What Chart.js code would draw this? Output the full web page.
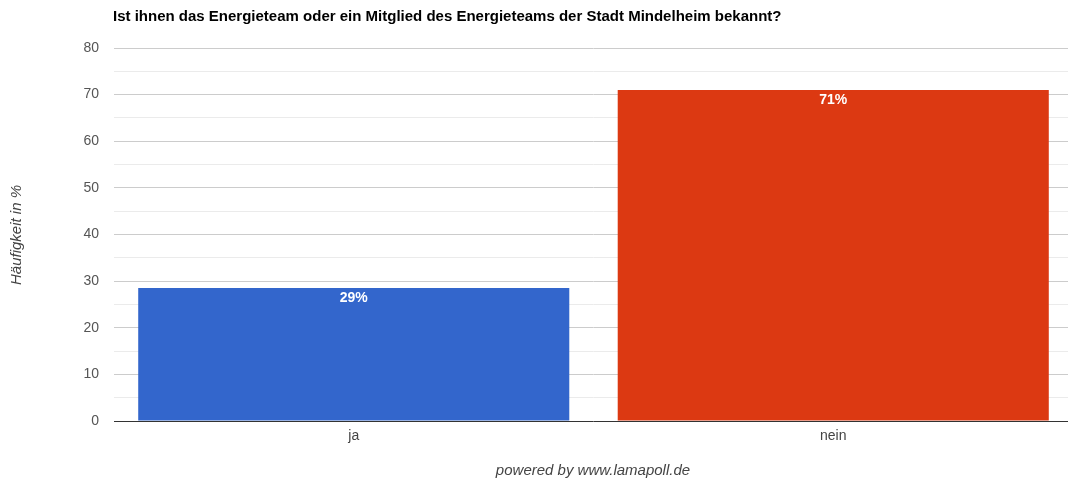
<!DOCTYPE html>
<html>
<head>
<meta charset="utf-8">
<script src="https://cdn.jsdelivr.net/npm/chart.js@4/dist/chart.umd.min.js"></script>
<style>
  html, body { margin: 0; padding: 0; background: #fff; overflow: hidden; }
  #wrap { width: 1068px; height: 483px; overflow: hidden; }
  canvas { display: block; }
</style>
</head>
<body>
<div id="wrap"><canvas id="chart" width="1073" height="483"></canvas></div>
<script>
const title = 'Ist ihnen das Energieteam oder ein Mitglied des Energieteams der Stadt Mindelheim bekannt?';
const yAxisTitle = 'Häufigkeit in %';
const footer = 'powered by www.lamapoll.de';

const categories = ['ja', 'nein'];
const values = [28.5, 71.0];
const barColors = ['#3366cc', '#dc3912'];
const yTicks = [0, 10, 20, 30, 40, 50, 60, 70, 80];

// texte ausserhalb der achsen + prozentwerte in den balken
const extraText = {
  id: 'extraText',
  afterDraw(chart) {
    const ctx = chart.ctx;
    ctx.save();

    ctx.fillStyle = '#000';
    ctx.font = 'bold 15px "Liberation Sans", Arial, sans-serif';
    ctx.textAlign = 'left';
    ctx.textBaseline = 'alphabetic';
    ctx.fillText(title, 113, 21);

    ctx.fillStyle = '#444';
    ctx.font = 'italic 15px "Liberation Sans", Arial, sans-serif';
    ctx.textAlign = 'center';
    ctx.textBaseline = 'middle';
    ctx.fillText(footer, 593, 471);

    ctx.translate(17, 235);
    ctx.rotate(-Math.PI / 2);
    ctx.fillText(yAxisTitle, 0, 0);
    ctx.setTransform(1, 0, 0, 1, 0, 0);

    const meta = chart.getDatasetMeta(0);
    ctx.fillStyle = '#fff';
    ctx.font = 'bold 14px "Liberation Sans", Arial, sans-serif';
    meta.data.forEach((bar, i) => {
      ctx.fillText(Math.round(values[i]) + '%', bar.x, bar.y + 10);
    });
    ctx.restore();
  },
};

new Chart(document.getElementById('chart'), {
  type: 'bar',
  data: {
    labels: categories,
    datasets: [
      {
        data: values,
        backgroundColor: barColors,
        borderWidth: 0,
        barPercentage: 0.899,
        categoryPercentage: 1,
      },
    ],
  },
  options: {
    responsive: false,
    animation: false,
    layout: { padding: { top: 48, right: 0, left: 0, bottom: 0 } },
    plugins: {
      legend: { display: false },
      tooltip: { enabled: false },
    },
    scales: {
      x: {
        grid: { display: false, drawTicks: false },
        border: { display: false },
        ticks: {
          color: '#444',
          font: { family: '"Liberation Sans", Arial, sans-serif', size: 14 },
          padding: 7,
        },
        afterFit: (scale) => { scale.height = 62; },
      },
      y: {
        min: yTicks[0],
        max: yTicks[yTicks.length - 1],
        border: { display: false },
        grid: {
          drawTicks: false,
          color: (c) => {
            const v = c.tick.value;
            if (v === 0) return '#333';
            return v % 10 === 0 ? '#cccccc' : '#ebebeb';
          },
        },
        ticks: {
          stepSize: 5,
          color: '#555',
          padding: 15,
          font: { family: '"Liberation Sans", Arial, sans-serif', size: 14 },
          callback: (v) => (yTicks.includes(v) ? v : ''),
        },
        afterFit: (scale) => { scale.width = 114; },
      },
    },
  },
  plugins: [extraText],
});
</script>
</body>
</html>
